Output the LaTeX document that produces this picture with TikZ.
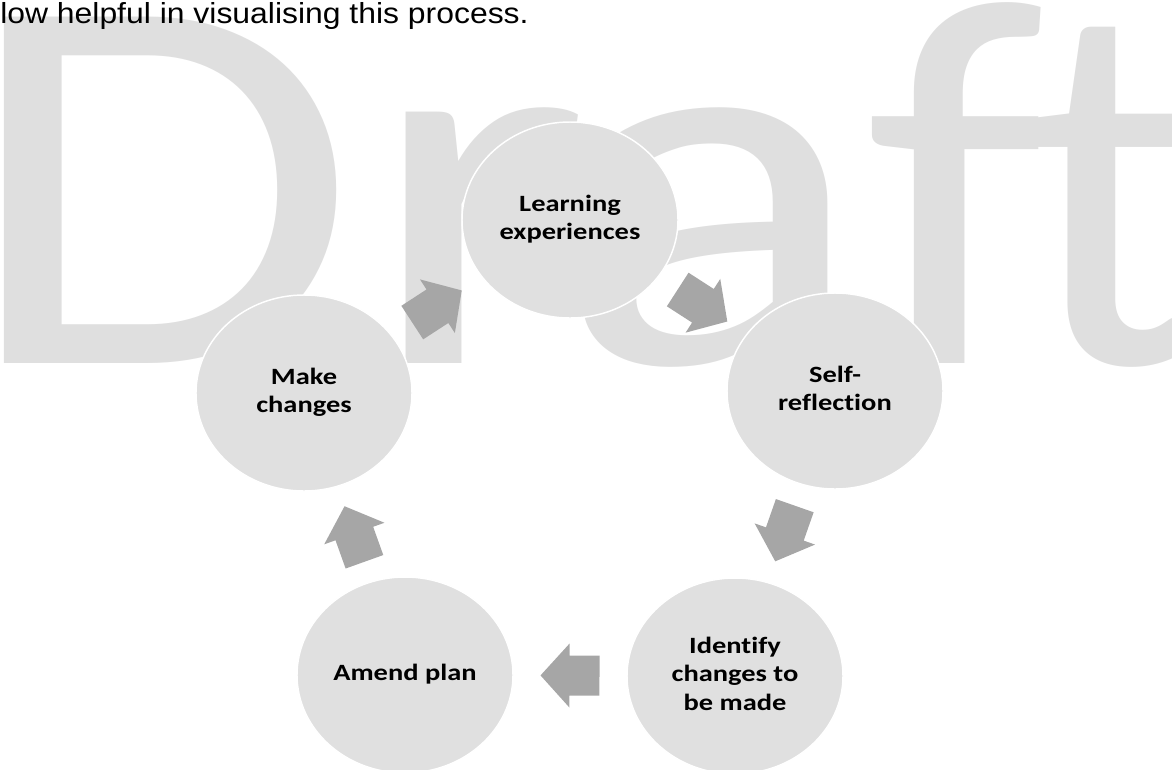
\documentclass[tikz,border=0pt]{standalone}
\usepackage{fontspec}
\setmainfont{Liberation Sans}
\newfontfamily\wmfont[Ligatures={NoCommon}]{Carlito}
\newfontfamily\stagefont[Ligatures={NoCommon}]{Carlito}
\usetikzlibrary{shapes.geometric}
\definecolor{wmgray}{HTML}{DFDFDF}
\definecolor{nodegray}{HTML}{E0E0E0}
\definecolor{arrowgray}{HTML}{A6A6A6}
% label of a stage, set in bold Carlito and widened slightly
\newcommand{\stagelabel}[1]{\scalebox{1.22}[1]{\begin{tabular}{@{}c@{}}#1\end{tabular}}}
% one widened watermark letter in a box of fixed advance
\newcommand{\wmletter}[4]{\makebox[#1][l]{\scalebox{#2}[#3]{#4}}}
\begin{document}
\begin{tikzpicture}[x=0.75pt,y=-0.75pt,
  stage/.style={ellipse, fill=nodegray, draw=white, line width=1.1pt,
    minimum width=162pt, minimum height=147pt, inner sep=0pt,
    font=\stagefont\bfseries\fontsize{17.5}{21.25}\selectfont},
  blockarrow/.pic={\fill[arrowgray] (-29.5,-20) -- (0.5,-20) -- (0.5,-32)
    -- (29.5,0) -- (0.5,32) -- (0.5,20) -- (-29.5,20) -- cycle;},
  flow/.style={sloped, allow upside down, pos=0.5}]
\useasboundingbox (0,0) rectangle (1172,769);
% watermark behind everything
\node[anchor=base west, inner sep=0pt, text=wmgray,
  font=\wmfont\fontsize{405}{405}\selectfont] (wm) at (-39.5,363)
  {\wmletter{302.6pt}{1.197}{1}{D}\wmletter{144pt}{1.2037}{0.975}{r}%
   \wmletter{231.75pt}{1.2037}{0.975}{a}\wmletter{115.3pt}{1.09}{0.975}{f}%
   \scalebox{1.03}[0.985]{t}};
% running text line at the top
\node[anchor=base west, inner sep=0pt,
  font=\fontsize{21.75}{26}\selectfont] (intro) at (0,23)
  {\scalebox{1.1}[1]{low helpful in visualising this process.}};
% the five stages of the cycle
\node[stage] (learn) at (570,220) {\stagelabel{Learning\\experiences}};
\node[stage] (self)  at (835,391) {\stagelabel{Self-\\reflection}};
\node[stage] (ident) at (735,676) {\stagelabel{Identify\\changes to\\be made}};
\node[stage] (amend) at (405,675) {\stagelabel{Amend plan}};
\node[stage] (make)  at (304,393) {\stagelabel{Make\\changes}};
% block arrows between consecutive stages
\path (learn) -- pic[flow] {blockarrow} (self);
\path (self)  -- pic[flow] {blockarrow} (ident);
\path (ident) -- pic[flow] {blockarrow} (amend);
\path (amend) -- pic[flow] {blockarrow} (make);
\path (make)  -- pic[flow] {blockarrow} (learn);
\end{tikzpicture}
\end{document}
